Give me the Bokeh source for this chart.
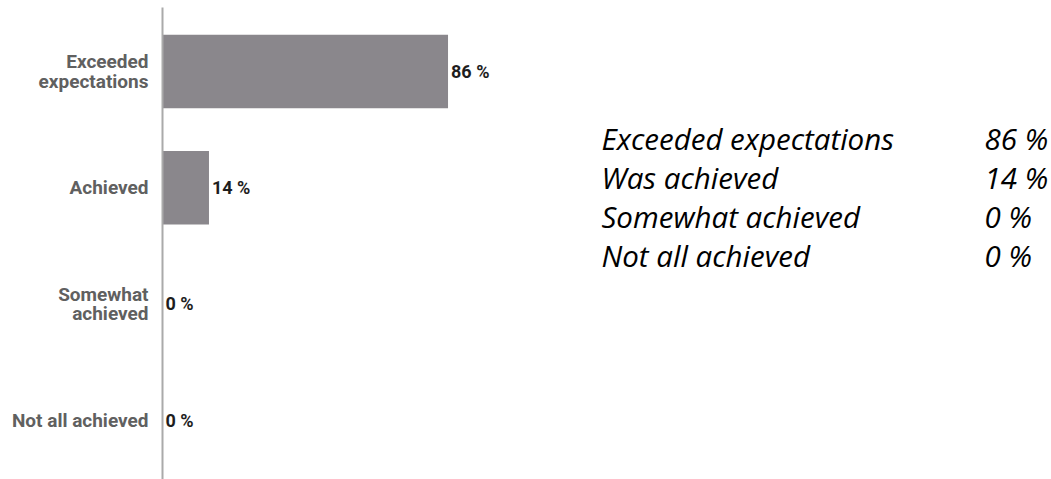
from bokeh.plotting import figure
from bokeh.models import Range1d, FixedTicker, ColumnDataSource
from bokeh.layouts import row
from bokeh.core.properties import value
from bokeh.embed import file_html
from bokeh.resources import INLINE

# ---- data ----
categories = ["Exceeded\nexpectations", "Achieved", "Somewhat\nachieved", "Not all achieved"]
percentages = [86, 14, 0, 0]
table_labels = ["Exceeded expectations", "Was achieved", "Somewhat achieved", "Not all achieved"]
table_values = [86, 14, 0, 0]

n = len(categories)
ypos = [n - 1 - i for i in range(n)]  # top to bottom

src = ColumnDataSource(dict(
    y=ypos,
    v=percentages,
    lbl=[f"{v} %" for v in percentages],
))

p = figure(width=580, height=479, output_backend="svg", toolbar_location=None,
           x_range=Range1d(0, 125.9), y_range=Range1d(-0.51, 3.55),
           min_border_left=162, min_border_right=0, min_border_top=7, min_border_bottom=0)
p.hbar(y="y", right="v", left=0, height=0.632, source=src,
       fill_color="#8a878c", line_color=None)
p.text(x="v", y="y", text="lbl", source=src, x_offset=3,
       text_font=value("Roboto"), text_font_size="18px", text_font_style="bold",
       text_color="#1e1e1e", text_baseline="middle", text_align="left")

p.xaxis.visible = False
p.xgrid.visible = False
p.ygrid.visible = False
p.outline_line_color = None
p.yaxis.ticker = FixedTicker(ticks=ypos)
p.yaxis.major_label_overrides = {y: c for y, c in zip(ypos, categories)}
p.yaxis.major_tick_out = 0
p.yaxis.major_tick_in = 0
p.yaxis.minor_tick_out = 0
p.yaxis.minor_tick_in = 0
p.yaxis.axis_line_color = "#aaaaaa"
p.yaxis.axis_line_width = 2
p.yaxis.major_label_standoff = 14
p.yaxis.major_label_text_font = "Roboto"
p.yaxis.major_label_text_font_size = "19px"
p.yaxis.major_label_text_font_style = "bold"
p.yaxis.major_label_text_color = "#606060"
p.yaxis.major_label_text_line_height = 0.85
p.yaxis.major_label_text_align = "right"

# ---- side table ----
rows_idx = list(range(len(table_labels)))
tsrc = ColumnDataSource(dict(
    y=[133 + 39.5 * i for i in rows_idx],
    lbl=table_labels,
    val=[f"{v} %" for v in table_values],
))
t = figure(width=471, height=479, output_backend="svg", toolbar_location=None,
           x_range=Range1d(0, 471), y_range=Range1d(479, 0),
           min_border=0)
t.axis.visible = False
t.grid.visible = False
t.outline_line_color = None
t.text(x=21, y="y", text="lbl", source=tsrc,
       text_font=value("Open Sans"), text_font_size="29.5px", text_font_style="italic",
       text_color="#000000", text_baseline="middle", text_align="left")
t.text(x=404, y="y", text="val", source=tsrc,
       text_font=value("Open Sans"), text_font_size="29.5px", text_font_style="italic",
       text_color="#000000", text_baseline="middle", text_align="left")

layout = row(p, t)
open("out.html", "w").write(file_html(layout, INLINE))
